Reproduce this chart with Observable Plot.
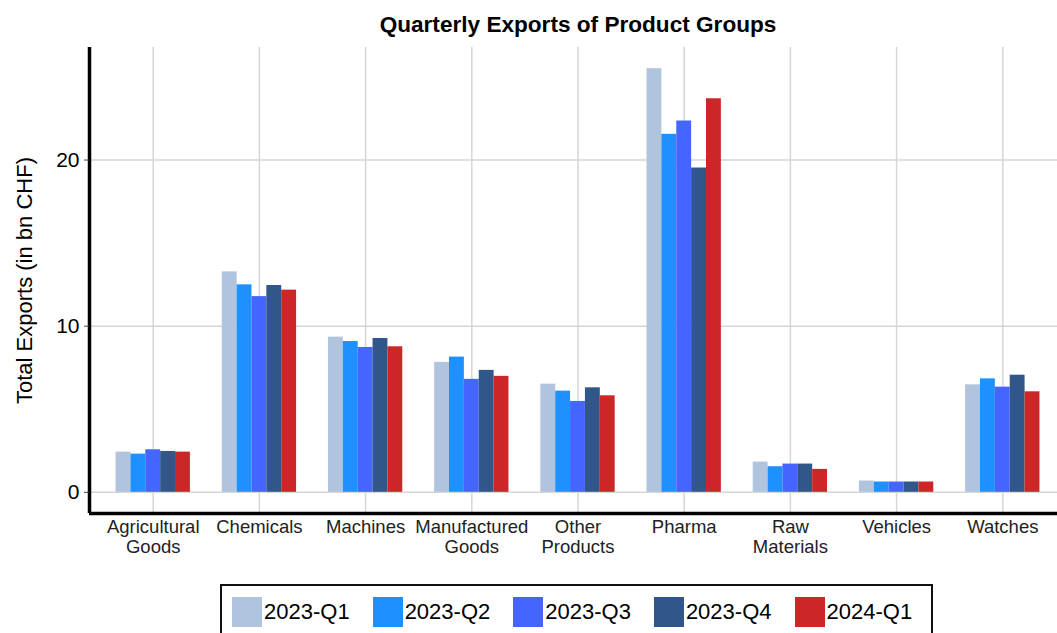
<!DOCTYPE html>
<html>
<head>
<meta charset="utf-8">
<script src="https://cdn.jsdelivr.net/npm/d3@7"></script>
<script src="https://cdn.jsdelivr.net/npm/@observablehq/plot@0.6"></script>
<style>
  html, body { margin: 0; padding: 0; background: white; overflow: hidden; width: 1057px; height: 633px; }
  #chart { position: relative; width: 1057px; height: 633px; overflow: hidden; font-family: "Liberation Sans", Arial, sans-serif; }
  #chart svg { max-width: none !important; }
  .legend { position: absolute; left: 220px; top: 584px; width: 713px; height: 60px; border: 2px solid #111; box-sizing: border-box;
            display: flex; align-items: flex-start; padding: 11px 0 0 10px; gap: 23px; }
  .item { display: flex; align-items: center; font-size: 22px; color: #000; }
  .sw { width: 30px; height: 30px; margin-right: 2px; }
</style>
</head>
<body>
<div id="chart"></div>
<script>
const title = "Quarterly Exports of Product Groups";
const yLabel = "Total Exports (in bn CHF)";
const categories = ["Agricultural Goods","Chemicals","Machines","Manufactured Goods","Other Products","Pharma","Raw Materials","Vehicles","Watches"];
const categoryLabels = ["Agricultural\nGoods","Chemicals","Machines","Manufactured\nGoods","Other\nProducts","Pharma","Raw\nMaterials","Vehicles","Watches"];
const quarters = ["2023-Q1","2023-Q2","2023-Q3","2023-Q4","2024-Q1"];
const colors = ["#B0C4DE","#1E90FF","#4466FF","#30568A","#CD2626"];
const q2023_1 = [2.42,13.27,9.34,7.82,6.51,25.50,1.82,0.68,6.47];
const q2023_2 = [2.30,12.49,9.08,8.14,6.09,21.55,1.54,0.62,6.83];
const q2023_3 = [2.56,11.78,8.72,6.80,5.47,22.35,1.70,0.62,6.33];
const q2023_4 = [2.46,12.45,9.26,7.34,6.29,19.52,1.70,0.62,7.05];
const q2024_1 = [2.42,12.17,8.76,6.98,5.81,23.69,1.38,0.62,6.05];
const yTicks = [0,10,20];

const series = [q2023_1,q2023_2,q2023_3,q2023_4,q2024_1];
const data = [];
series.forEach((vals, qi) => vals.forEach((v, ci) => data.push({ci, qi, category: categories[ci], quarter: quarters[qi], value: v})));

const groupWidth = 0.7;
const barW = groupWidth / quarters.length;
const yMax = d3.max(data, d => d.value);
const yDomain = [-0.05 * yMax, yMax * 1.05];
const xDomain = [-0.6, categories.length - 1 + 0.6];
const catIdx = categories.map((_, i) => i);
const grid = "#d6d6d6";

const plot = Plot.plot({
  width: 1066,
  height: 575,
  marginTop: 47,
  marginBottom: 62,
  marginLeft: 89,
  marginRight: 0,
  style: {fontFamily: "'Liberation Sans', Arial, sans-serif", fontSize: "18px", color: "black", background: "white", overflow: "visible", maxWidth: "none"},
  x: {type: "linear", domain: xDomain},
  y: {domain: yDomain},
  color: {domain: quarters, range: colors},
  marks: [
    Plot.ruleX(catIdx, {stroke: grid, strokeWidth: 1.5}),
    Plot.ruleY(yTicks, {stroke: grid, strokeWidth: 1.5}),
    Plot.rectY(data, {
      x1: d => d.ci - groupWidth / 2 + d.qi * barW,
      x2: d => d.ci - groupWidth / 2 + (d.qi + 1) * barW,
      y: "value",
      fill: "quarter"
    }),
    Plot.ruleX([xDomain[0]], {stroke: "black", strokeWidth: 3.5}),
    Plot.ruleY([yDomain[0]], {stroke: "black", strokeWidth: 3.5}),
    Plot.axisY(yTicks, {anchor: "left", tickSize: 5, tickPadding: 5, fontSize: 21, label: null, stroke: "#444", fill: "black"}),
    Plot.axisX(catIdx, {anchor: "bottom", tickSize: 0, tickPadding: 5, fontSize: 18.5, lineHeight: 1.1, label: null,
      tickFormat: i => categoryLabels[i], fill: "#222"}),
    Plot.text([yLabel], {frameAnchor: "left", text: d => d, rotate: -90, dx: -65, fontSize: 22, textAnchor: "middle", lineAnchor: "middle", fill: "black"}),
    Plot.text([title], {frameAnchor: "top", text: d => d, dy: -16, fontSize: 22.6, fontWeight: "bold", lineAnchor: "bottom", fill: "black"})
  ]
});

const chart = document.getElementById("chart");
chart.appendChild(plot);

const legend = document.createElement("div");
legend.className = "legend";
quarters.forEach((q, i) => {
  const item = document.createElement("div");
  item.className = "item";
  const sw = document.createElement("div");
  sw.className = "sw";
  sw.style.background = colors[i];
  const t = document.createElement("span");
  t.textContent = q;
  item.appendChild(sw);
  item.appendChild(t);
  legend.appendChild(item);
});
chart.appendChild(legend);
</script>
</body>
</html>
